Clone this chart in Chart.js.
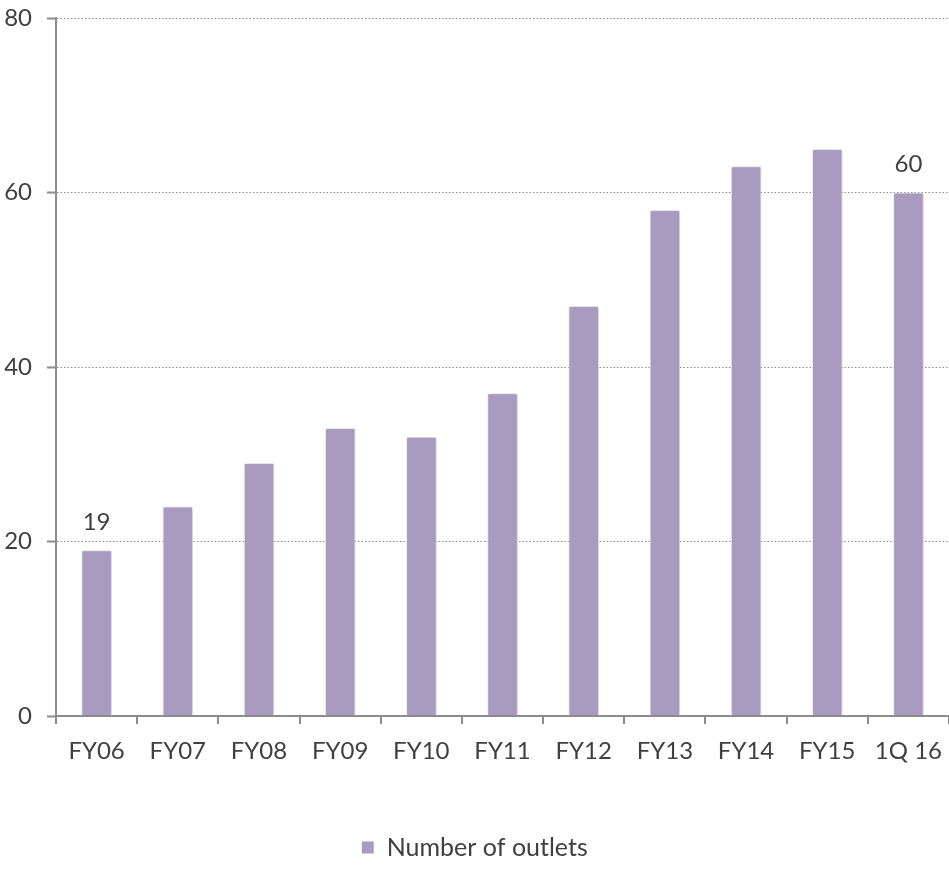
<!DOCTYPE html>
<html>
<head>
<meta charset="utf-8">
<script src="https://cdn.jsdelivr.net/npm/chart.js@4/dist/chart.umd.min.js"></script>
<style>
  html, body { margin: 0; padding: 0; background: #fff; }
  #wrap { width: 949px; height: 888px; position: relative; }
</style>
</head>
<body>
<div id="wrap"><canvas id="outlets-chart"></canvas></div>
<script>
const categories = ['FY06', 'FY07', 'FY08', 'FY09', 'FY10', 'FY11', 'FY12', 'FY13', 'FY14', 'FY15', '1Q 16'];
const outlets = [19, 24, 29, 33, 32, 37, 47, 58, 63, 65, 60];
const yTicks = [0, 20, 40, 60, 80];
// only the first and last bar carry a value label
const labelledBars = [0, 10];

const textColor = '#404040';
const fontFamily = 'Lato, "Open Sans", sans-serif';

// soft shadow round the bars
const barShadow = {
    id: 'barShadow',
    beforeDatasetsDraw(chart) {
        const ctx = chart.ctx;
        ctx.save();
        ctx.shadowColor = 'rgba(0,0,0,0.25)';
        ctx.shadowBlur = 4;
        ctx.shadowOffsetX = 1;
        ctx.shadowOffsetY = 0;
    },
    afterDatasetsDraw(chart) {
        chart.ctx.restore();
    }
};

// value labels above chosen bars
const valueLabels = {
    id: 'valueLabels',
    afterDatasetsDraw(chart) {
        const ctx = chart.ctx;
        const meta = chart.getDatasetMeta(0);
        ctx.save();
        ctx.font = '24px ' + fontFamily;
        ctx.fillStyle = textColor;
        ctx.textAlign = 'center';
        ctx.textBaseline = 'middle';
        labelledBars.forEach(i => {
            const bar = meta.data[i];
            ctx.fillText(outlets[i], bar.x, bar.y - 28);
        });
        ctx.restore();
    }
};

const ctx = document.getElementById('outlets-chart').getContext('2d');
const myChart = new Chart(ctx, {
    type: 'bar',
    data: {
        labels: categories,
        datasets: [{
            label: 'Number of outlets',
            data: outlets,
            backgroundColor: '#A99BC0',
            borderColor: '#ffffff',
            borderWidth: 1,
            barPercentage: 0.8,
            categoryPercentage: 0.47
        }]
    },
    options: {
        responsive: true,
        maintainAspectRatio: false,
        animation: false,
        layout: {
            padding: { top: 18, right: 0, left: 0, bottom: 18 }
        },
        scales: {
            x: {
                grid: {
                    display: true,
                    offset: true,
                    drawOnChartArea: false,
                    drawTicks: true,
                    tickLength: 8,
                    color: '#8c8c8c',
                    lineWidth: 2
                },
                border: { color: '#8c8c8c', width: 2 },
                ticks: {
                    color: textColor,
                    font: { family: fontFamily, size: 24 },
                    padding: 13,
                    maxRotation: 0
                },
                afterFit(scale) {
                    scale.height = 109;
                    scale.paddingLeft = 0;
                    scale.paddingRight = 0;
                }
            },
            y: {
                min: 0,
                max: 80,
                afterBuildTicks(scale) {
                    scale.ticks = yTicks.map(v => ({ value: v }));
                },
                grid: {
                    color: '#8c8c8c',
                    lineWidth: 1,
                    tickLength: 9,
                    tickWidth: 2,
                    tickColor: '#8c8c8c'
                },
                border: { color: '#8c8c8c', width: 2, dash: [1.5, 2] },
                ticks: {
                    color: textColor,
                    font: { family: fontFamily, size: 24 },
                    padding: 15
                },
                afterFit(scale) {
                    scale.width = 56;
                    scale.paddingTop = 0;
                    scale.paddingBottom = 0;
                }
            }
        },
        plugins: {
            legend: {
                position: 'bottom',
                labels: {
                    color: textColor,
                    font: { family: fontFamily, size: 25 },
                    boxWidth: 13,
                    boxHeight: 13,
                    padding: 10
                }
            },
            tooltip: { enabled: false }
        }
    },
    plugins: [barShadow, valueLabels]
});
</script>
</body>
</html>
